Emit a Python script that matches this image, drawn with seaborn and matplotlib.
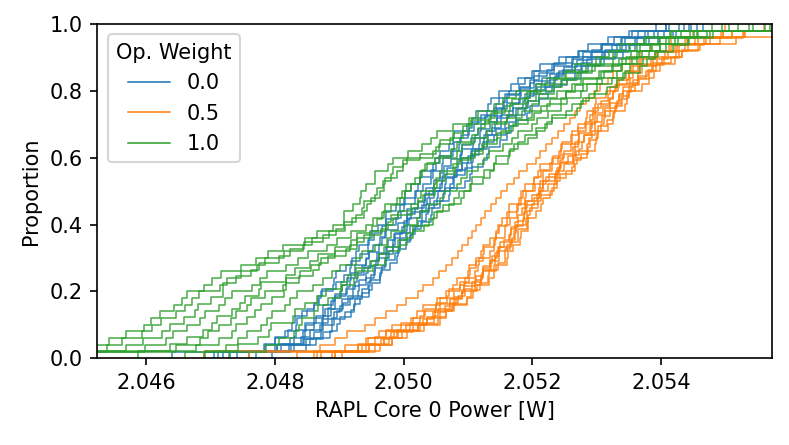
import seaborn as sns
import matplotlib.pyplot as plt
import pandas as pd
from matplotlib.lines import Line2D

# Samples per run, stored as offsets in units of 10 uW above 2.04 W
BASE_W = 2.04
UNIT_W = 1e-5

weights = ["0.0", "0.5", "1.0"]
colors = {"0.0": "#1f77b4", "0.5": "#ff7f0e", "1.0": "#2ca02c"}

runs_w00 = [
    [640, 784, 800, 816, 833, 835, 842, 860, 868, 871, 890, 892, 895, 911, 920, 926, 931, 947, 948, 960, 972, 973, 988, 1001, 1002, 1012, 1025, 1027, 1045, 1049, 1056, 1071, 1077, 1079, 1098, 1107, 1112, 1131, 1136, 1149, 1167, 1177, 1200, 1212, 1242, 1271, 1286, 1318, 1350, 1392],
    [705, 783, 800, 821, 827, 832, 850, 861, 867, 873, 895, 907, 918, 917, 933, 945, 944, 954, 967, 973, 991, 995, 1002, 1017, 1023, 1025, 1043, 1051, 1055, 1076, 1079, 1089, 1102, 1106, 1121, 1141, 1156, 1158, 1181, 1196, 1211, 1234, 1261, 1279, 1308, 1340, 1365, 1407],
    [720, 803, 823, 843, 848, 861, 874, 875, 891, 904, 902, 912, 924, 925, 942, 946, 952, 966, 971, 973, 988, 996, 1000, 1017, 1020, 1030, 1043, 1046, 1060, 1061, 1074, 1087, 1086, 1100, 1109, 1116, 1129, 1144, 1148, 1164, 1180, 1188, 1203, 1231, 1253, 1272, 1306, 1327, 1355, 1408],
    [741, 803, 830, 833, 847, 864, 883, 887, 894, 912, 917, 918, 935, 942, 946, 962, 964, 973, 991, 1005, 1006, 1022, 1035, 1034, 1048, 1056, 1062, 1074, 1089, 1091, 1104, 1118, 1120, 1127, 1145, 1155, 1160, 1181, 1202, 1228, 1249, 1269, 1291, 1324, 1344, 1380, 1428],
    [690, 822, 843, 861, 870, 873, 892, 901, 905, 922, 921, 930, 942, 944, 957, 958, 973, 985, 983, 997, 1000, 1006, 1018, 1031, 1033, 1046, 1060, 1061, 1067, 1084, 1087, 1090, 1108, 1111, 1116, 1134, 1145, 1153, 1161, 1181, 1183, 1196, 1202, 1223, 1234, 1264, 1293, 1309, 1338, 1375, 1413],
    [760, 810, 841, 847, 860, 874, 878, 893, 894, 910, 927, 925, 938, 950, 962, 974, 975, 987, 1001, 1005, 1011, 1028, 1036, 1039, 1057, 1060, 1081, 1091, 1100, 1106, 1123, 1125, 1138, 1151, 1152, 1170, 1185, 1188, 1207, 1227, 1238, 1267, 1285, 1308, 1339, 1363, 1389, 1443],
    [712, 825, 855, 871, 873, 888, 897, 904, 916, 929, 930, 942, 955, 954, 960, 977, 984, 986, 1003, 1006, 1008, 1025, 1035, 1041, 1047, 1064, 1066, 1078, 1090, 1091, 1104, 1117, 1118, 1128, 1142, 1145, 1164, 1170, 1179, 1197, 1206, 1215, 1242, 1261, 1279, 1312, 1331, 1359, 1396, 1435],
    [770, 830, 845, 854, 874, 883, 887, 906, 913, 936, 945, 950, 955, 971, 973, 984, 995, 994, 1010, 1028, 1029, 1039, 1052, 1054, 1072, 1076, 1083, 1098, 1104, 1111, 1129, 1141, 1159, 1163, 1174, 1189, 1194, 1211, 1222, 1245, 1267, 1277, 1305, 1329, 1351, 1381, 1418, 1456],
    [730, 800, 848, 874, 889, 892, 909, 923, 924, 935, 948, 947, 964, 967, 973, 987, 993, 994, 1011, 1018, 1022, 1035, 1038, 1048, 1061, 1064, 1078, 1079, 1095, 1108, 1107, 1117, 1125, 1131, 1143, 1157, 1160, 1174, 1190, 1193, 1202, 1220, 1235, 1247, 1276, 1293, 1313, 1346, 1374, 1404, 1446],
    [796, 848, 864, 885, 896, 901, 919, 923, 933, 946, 951, 964, 965, 979, 991, 990, 1003, 1010, 1015, 1027, 1042, 1044, 1057, 1071, 1072, 1095, 1103, 1106, 1124, 1129, 1133, 1150, 1160, 1167, 1174, 1192, 1196, 1210, 1225, 1231, 1254, 1276, 1287, 1312, 1341, 1359, 1395, 1423, 1466],
]

runs_w05 = [
    [760, 909, 942, 961, 982, 1012, 1021, 1030, 1052, 1066, 1076, 1083, 1100, 1101, 1112, 1123, 1121, 1135, 1146, 1143, 1153, 1163, 1164, 1179, 1182, 1188, 1202, 1209, 1212, 1231, 1242, 1245, 1261, 1262, 1271, 1283, 1285, 1298, 1299, 1314, 1330, 1331, 1346, 1357, 1369, 1390, 1416, 1440, 1493, 1598],
    [861, 929, 955, 972, 996, 1025, 1033, 1050, 1067, 1071, 1088, 1102, 1103, 1112, 1124, 1125, 1141, 1143, 1148, 1160, 1161, 1176, 1182, 1185, 1201, 1203, 1214, 1228, 1232, 1245, 1246, 1260, 1271, 1282, 1289, 1294, 1306, 1318, 1320, 1334, 1350, 1354, 1366, 1392, 1413, 1438, 1496, 1590],
    [866, 929, 945, 972, 1003, 1015, 1032, 1050, 1057, 1079, 1088, 1096, 1111, 1116, 1117, 1134, 1140, 1142, 1157, 1158, 1166, 1176, 1177, 1189, 1190, 1204, 1216, 1217, 1231, 1240, 1249, 1260, 1272, 1273, 1284, 1297, 1298, 1302, 1319, 1326, 1333, 1352, 1357, 1364, 1387, 1406, 1425, 1453, 1510, 1560],
    [690, 936, 970, 985, 1010, 1037, 1049, 1056, 1079, 1091, 1094, 1112, 1124, 1136, 1138, 1150, 1149, 1163, 1173, 1167, 1178, 1184, 1188, 1199, 1211, 1212, 1226, 1241, 1243, 1248, 1264, 1271, 1272, 1289, 1291, 1294, 1310, 1320, 1325, 1329, 1347, 1351, 1366, 1384, 1393, 1422, 1457, 1497, 1599],
    [872, 941, 965, 980, 1015, 1030, 1046, 1064, 1072, 1090, 1094, 1111, 1124, 1122, 1135, 1142, 1146, 1156, 1167, 1166, 1177, 1188, 1187, 1191, 1207, 1214, 1216, 1235, 1239, 1244, 1263, 1272, 1277, 1281, 1297, 1298, 1309, 1320, 1321, 1335, 1350, 1351, 1364, 1380, 1388, 1415, 1432, 1461, 1516, 1613, 1640],
    [893, 947, 977, 989, 1023, 1048, 1053, 1072, 1085, 1095, 1107, 1121, 1123, 1135, 1148, 1149, 1167, 1173, 1174, 1186, 1187, 1190, 1203, 1212, 1217, 1222, 1240, 1243, 1256, 1267, 1266, 1281, 1292, 1291, 1301, 1313, 1332, 1335, 1341, 1357, 1365, 1370, 1394, 1411, 1428, 1467, 1510, 1590],
    [888, 947, 969, 992, 1023, 1037, 1056, 1075, 1081, 1091, 1111, 1120, 1123, 1140, 1142, 1145, 1160, 1168, 1172, 1175, 1191, 1190, 1200, 1210, 1209, 1224, 1236, 1237, 1249, 1263, 1268, 1285, 1288, 1293, 1307, 1312, 1313, 1330, 1338, 1341, 1360, 1364, 1376, 1392, 1401, 1424, 1438, 1476, 1529, 1619],
    [894, 963, 982, 997, 1032, 1054, 1066, 1077, 1099, 1105, 1118, 1131, 1132, 1146, 1158, 1157, 1166, 1177, 1178, 1192, 1193, 1196, 1209, 1213, 1231, 1238, 1243, 1261, 1265, 1275, 1287, 1289, 1301, 1302, 1316, 1328, 1326, 1340, 1347, 1353, 1366, 1381, 1386, 1405, 1428, 1442, 1470, 1527, 1626],
    [904, 955, 982, 1006, 1026, 1056, 1066, 1078, 1098, 1108, 1114, 1133, 1141, 1144, 1160, 1162, 1170, 1181, 1182, 1193, 1194, 1206, 1217, 1214, 1227, 1234, 1239, 1252, 1266, 1269, 1285, 1298, 1299, 1302, 1318, 1325, 1327, 1344, 1347, 1350, 1370, 1381, 1389, 1398, 1421, 1432, 1457, 1491, 1531, 1638],
    [835, 870, 893, 912, 940, 955, 972, 990, 1004, 1022, 1030, 1046, 1055, 1066, 1075, 1084, 1090, 1100, 1106, 1113, 1120, 1127, 1136, 1143, 1152, 1160, 1171, 1180, 1192, 1205, 1212, 1222, 1230, 1240, 1249, 1258, 1266, 1274, 1284, 1296, 1305, 1317, 1326, 1340, 1352, 1368, 1384, 1415, 1450, 1500],
]

runs_w10 = [
    [466, 519, 542, 569, 596, 608, 621, 643, 655, 663, 690, 702, 717, 747, 770, 790, 813, 847, 866, 891, 907, 908, 922, 934, 932, 942, 955, 956, 976, 983, 1007, 1029, 1043, 1052, 1077, 1102, 1115, 1141, 1154, 1175, 1206, 1223, 1251, 1266, 1299, 1319, 1336, 1373, 1414, 1479],
    [490, 539, 562, 594, 609, 623, 646, 661, 671, 682, 715, 726, 748, 772, 784, 814, 843, 858, 884, 909, 920, 939, 943, 950, 964, 970, 971, 989, 999, 1006, 1046, 1055, 1072, 1092, 1101, 1133, 1142, 1166, 1188, 1197, 1234, 1254, 1272, 1297, 1325, 1332, 1362, 1397, 1431, 1505],
    [521, 569, 595, 625, 637, 658, 676, 681, 701, 719, 720, 740, 763, 776, 806, 823, 845, 875, 895, 908, 926, 935, 939, 956, 958, 968, 980, 983, 999, 1025, 1050, 1056, 1077, 1092, 1105, 1136, 1157, 1169, 1192, 1214, 1233, 1252, 1283, 1307, 1326, 1352, 1377, 1415, 1494],
    [505, 598, 631, 642, 663, 684, 691, 713, 722, 734, 764, 777, 788, 817, 836, 851, 881, 896, 919, 942, 953, 969, 971, 989, 1002, 1003, 1017, 1025, 1034, 1049, 1083, 1090, 1110, 1130, 1137, 1160, 1184, 1200, 1211, 1238, 1262, 1276, 1304, 1326, 1345, 1354, 1386, 1407, 1452, 1537],
    [588, 637, 663, 688, 702, 710, 733, 745, 753, 776, 779, 818, 831, 855, 867, 894, 918, 928, 951, 959, 967, 980, 995, 998, 1012, 1026, 1028, 1036, 1056, 1074, 1083, 1107, 1116, 1127, 1161, 1178, 1192, 1206, 1233, 1246, 1269, 1293, 1335, 1362, 1368, 1399, 1445, 1520],
    [512, 647, 684, 696, 713, 732, 739, 757, 763, 784, 812, 817, 839, 856, 872, 894, 917, 928, 951, 973, 983, 992, 1012, 1022, 1027, 1047, 1051, 1057, 1076, 1089, 1111, 1122, 1145, 1152, 1170, 1193, 1200, 1223, 1244, 1252, 1279, 1301, 1312, 1340, 1355, 1370, 1398, 1422, 1456, 1562],
    [498, 677, 713, 734, 739, 757, 769, 778, 795, 814, 818, 837, 859, 868, 883, 910, 927, 938, 965, 976, 981, 1013, 1022, 1030, 1049, 1052, 1065, 1080, 1083, 1105, 1123, 1129, 1145, 1164, 1178, 1202, 1214, 1228, 1252, 1266, 1278, 1306, 1324, 1340, 1366, 1383, 1412, 1457, 1543],
    [661, 724, 743, 757, 778, 788, 795, 816, 824, 834, 859, 875, 888, 901, 926, 936, 955, 974, 980, 1002, 1021, 1025, 1040, 1056, 1062, 1083, 1089, 1098, 1116, 1125, 1132, 1155, 1168, 1177, 1200, 1208, 1224, 1244, 1254, 1275, 1285, 1309, 1331, 1338, 1362, 1381, 1399, 1427, 1471, 1569],
    [691, 743, 773, 791, 794, 828, 831, 847, 866, 879, 903, 913, 926, 948, 961, 969, 992, 1005, 1014, 1039, 1047, 1061, 1078, 1086, 1103, 1107, 1125, 1141, 1143, 1165, 1177, 1188, 1205, 1223, 1230, 1269, 1276, 1288, 1316, 1331, 1341, 1367, 1378, 1391, 1419, 1444, 1481, 1590],
    [729, 786, 806, 829, 838, 842, 861, 867, 882, 901, 904, 923, 929, 952, 971, 976, 994, 1006, 1015, 1031, 1045, 1052, 1070, 1089, 1094, 1104, 1124, 1135, 1141, 1162, 1163, 1171, 1193, 1208, 1219, 1230, 1252, 1261, 1279, 1297, 1300, 1324, 1344, 1352, 1372, 1395, 1408, 1442, 1476, 1584],
]

x_limits = (2.04524, 2.05573)
x_ticks = [2.046, 2.048, 2.050, 2.052, 2.054]

rows = []
for w, runs in zip(weights, [runs_w00, runs_w05, runs_w10]):
    for i, run in enumerate(runs):
        for v in run:
            rows.append({"weight": w, "run": f"{w}-{i}", "power": BASE_W + v * UNIT_W})
df = pd.DataFrame(rows)

fig, ax = plt.subplots(figsize=(789 / 150, 445 / 150), dpi=150)
fig.subplots_adjust(left=0.1233, right=0.9789, top=0.946, bottom=0.195)

for run_id, grp in df.groupby("run", sort=False):
    w = grp["weight"].iloc[0]
    sns.ecdfplot(x=grp["power"], color=colors[w], lw=0.75, alpha=0.85, ax=ax)

ax.set_xlim(*x_limits)
ax.set_ylim(0, 1)
ax.set_xticks(x_ticks)
ax.ticklabel_format(axis="x", useOffset=False)
ax.set_xlabel("RAPL Core 0 Power [W]")
ax.set_ylabel("Proportion")

handles = [Line2D([0], [0], color=colors[w], lw=0.75) for w in weights]
ax.legend(handles, weights, title="Op. Weight", loc="upper left")

plt.savefig("out.png", dpi=150)
plt.close()
